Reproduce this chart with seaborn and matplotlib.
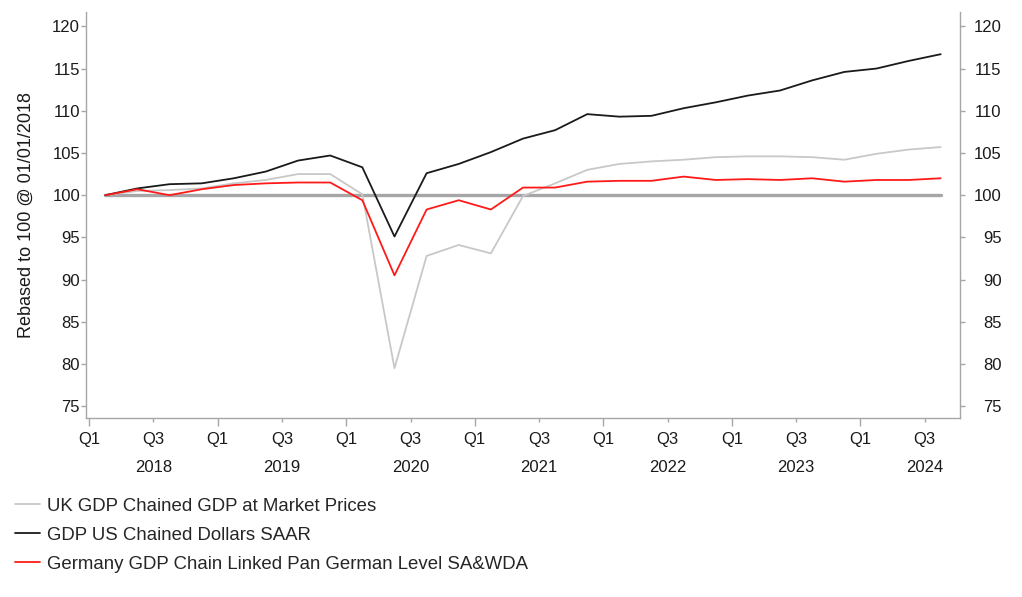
import numpy as np
import pandas as pd
import matplotlib
matplotlib.use("Agg")
import matplotlib.pyplot as plt
import matplotlib.transforms as mtransforms
import seaborn as sns

# ---- data (quarterly, Q1 2018 .. Q3 2024) ----
quarters = ["2018Q1", "2018Q2", "2018Q3", "2018Q4",
            "2019Q1", "2019Q2", "2019Q3", "2019Q4",
            "2020Q1", "2020Q2", "2020Q3", "2020Q4",
            "2021Q1", "2021Q2", "2021Q3", "2021Q4",
            "2022Q1", "2022Q2", "2022Q3", "2022Q4",
            "2023Q1", "2023Q2", "2023Q3", "2023Q4",
            "2024Q1", "2024Q2", "2024Q3"]

uk_gdp = [100.0, 100.5, 100.6, 100.8, 101.4, 101.8, 102.5, 102.5,
          100.1, 79.5, 92.8, 94.1, 93.1, 99.9, 101.4, 103.0,
          103.7, 104.0, 104.2, 104.5, 104.6, 104.6, 104.5, 104.2,
          104.9, 105.4, 105.7]
us_gdp = [100.0, 100.8, 101.3, 101.4, 102.0, 102.8, 104.1, 104.7,
          103.3, 95.1, 102.6, 103.7, 105.1, 106.7, 107.7, 109.6,
          109.3, 109.4, 110.3, 111.0, 111.8, 112.4, 113.6, 114.6,
          115.0, 115.9, 116.7]
de_gdp = [100.0, 100.7, 100.0, 100.7, 101.2, 101.4, 101.5, 101.5,
          99.4, 90.5, 98.3, 99.4, 98.3, 100.9, 100.9, 101.6,
          101.7, 101.7, 102.2, 101.8, 101.9, 101.8, 102.0, 101.6,
          101.8, 101.8, 102.0]

series_names = ["UK GDP Chained GDP at Market Prices",
                "GDP US Chained Dollars SAAR",
                "Germany GDP Chain Linked Pan German Level SA&WDA"]
series_colors = ["#c8c8c8", "#1a1a1a", "#ff1a1a"]

years = ["2018", "2019", "2020", "2021", "2022", "2023", "2024"]
baseline = 100.0
yticks = [75, 80, 85, 90, 95, 100, 105, 110, 115, 120]

# ---- build long dataframe ----
xpos = np.arange(len(quarters)) + 0.5   # data at mid-quarter
df = pd.DataFrame({
    "x": np.tile(xpos, 3),
    "value": uk_gdp + us_gdp + de_gdp,
    "series": np.repeat(series_names, len(quarters)),
})

sns.set_theme(style="white")
plt.rcParams["font.family"] = ["Liberation Sans", "DejaVu Sans"]

FS = 12
TXT = "#1a1a1a"

fig = plt.figure(figsize=(10.22, 5.97), dpi=100)
ax = fig.add_axes([86 / 1022, 1 - 418 / 597, (960 - 86) / 1022, (418 - 12) / 597])

# baseline at 100
ax.plot([xpos[0], xpos[-1]], [baseline, baseline], color="#a6a6a6", lw=2.4, zorder=1)

sns.lineplot(data=df, x="x", y="value", hue="series", hue_order=series_names,
             palette=dict(zip(series_names, series_colors)), linewidth=1.3,
             ax=ax, legend=True, zorder=3)

ylim = (73.6, 121.7)
ax.set_ylim(*ylim)
ax.set_xlim(-0.1, len(quarters) + 0.1)

spine_col = "#a6a6a6"
for s in ["left", "right", "bottom"]:
    ax.spines[s].set_visible(True)
    ax.spines[s].set_color(spine_col)
    ax.spines[s].set_linewidth(1.0)
ax.spines["top"].set_visible(False)

# x ticks: Q1 long, Q3 short
q_idx = np.arange(0, len(quarters), 2)
ax.set_xticks(q_idx)
ax.set_xticklabels(["Q1" if i % 4 == 0 else "Q3" for i in q_idx], fontsize=FS, color=TXT)
ax.tick_params(axis="x", which="major", length=6, width=1, color=spine_col, pad=4, bottom=True)
for i, t in zip(q_idx, ax.xaxis.get_major_ticks()):
    if i % 4 != 0:
        t.tick1line.set_markersize(3)

ax.set_yticks(yticks)
ax.set_yticklabels([str(v) for v in yticks], fontsize=FS, color=TXT)
ax.tick_params(axis="y", length=3.5, width=1, color=spine_col, pad=0.8, left=True)

ax.set_xlabel("")
ax.set_ylabel("Rebased to 100 @ 01/01/2018", fontsize=13, color=TXT)
ax.yaxis.set_label_coords((35 - 86) / 874, 0.5)

# year labels under Q3 ticks
trans = mtransforms.blended_transform_factory(ax.transData, ax.transAxes)
for k, yr in enumerate(years):
    ax.text(k * 4 + 2, (418 - 468) / 406, yr, transform=trans, ha="center", va="center",
            fontsize=FS, color=TXT)

# right axis (labels right-aligned)
ax2 = ax.twinx()
ax2.set_ylim(*ylim)
ax2.set_yticks(yticks)
ax2.set_yticklabels([str(v) for v in yticks], fontsize=FS, color=TXT)
ax2.tick_params(axis="y", length=3.5, width=1, color=spine_col, pad=26.5, right=True)
plt.setp(ax2.get_yticklabels(), ha="right")
for s in ax2.spines.values():
    s.set_visible(False)
ax2.grid(False)
ax.grid(False)

# legend below
handles, labels = ax.get_legend_handles_labels()
ax.get_legend().remove()
fig.legend(handles, labels, loc="upper left", bbox_to_anchor=(15 / 1022, 1 - 497.5 / 597),
           frameon=False, fontsize=13.4, handlelength=1.35, handletextpad=0.38,
           labelspacing=0.65, borderpad=0, borderaxespad=0)

fig.savefig("out.png", dpi=100)
